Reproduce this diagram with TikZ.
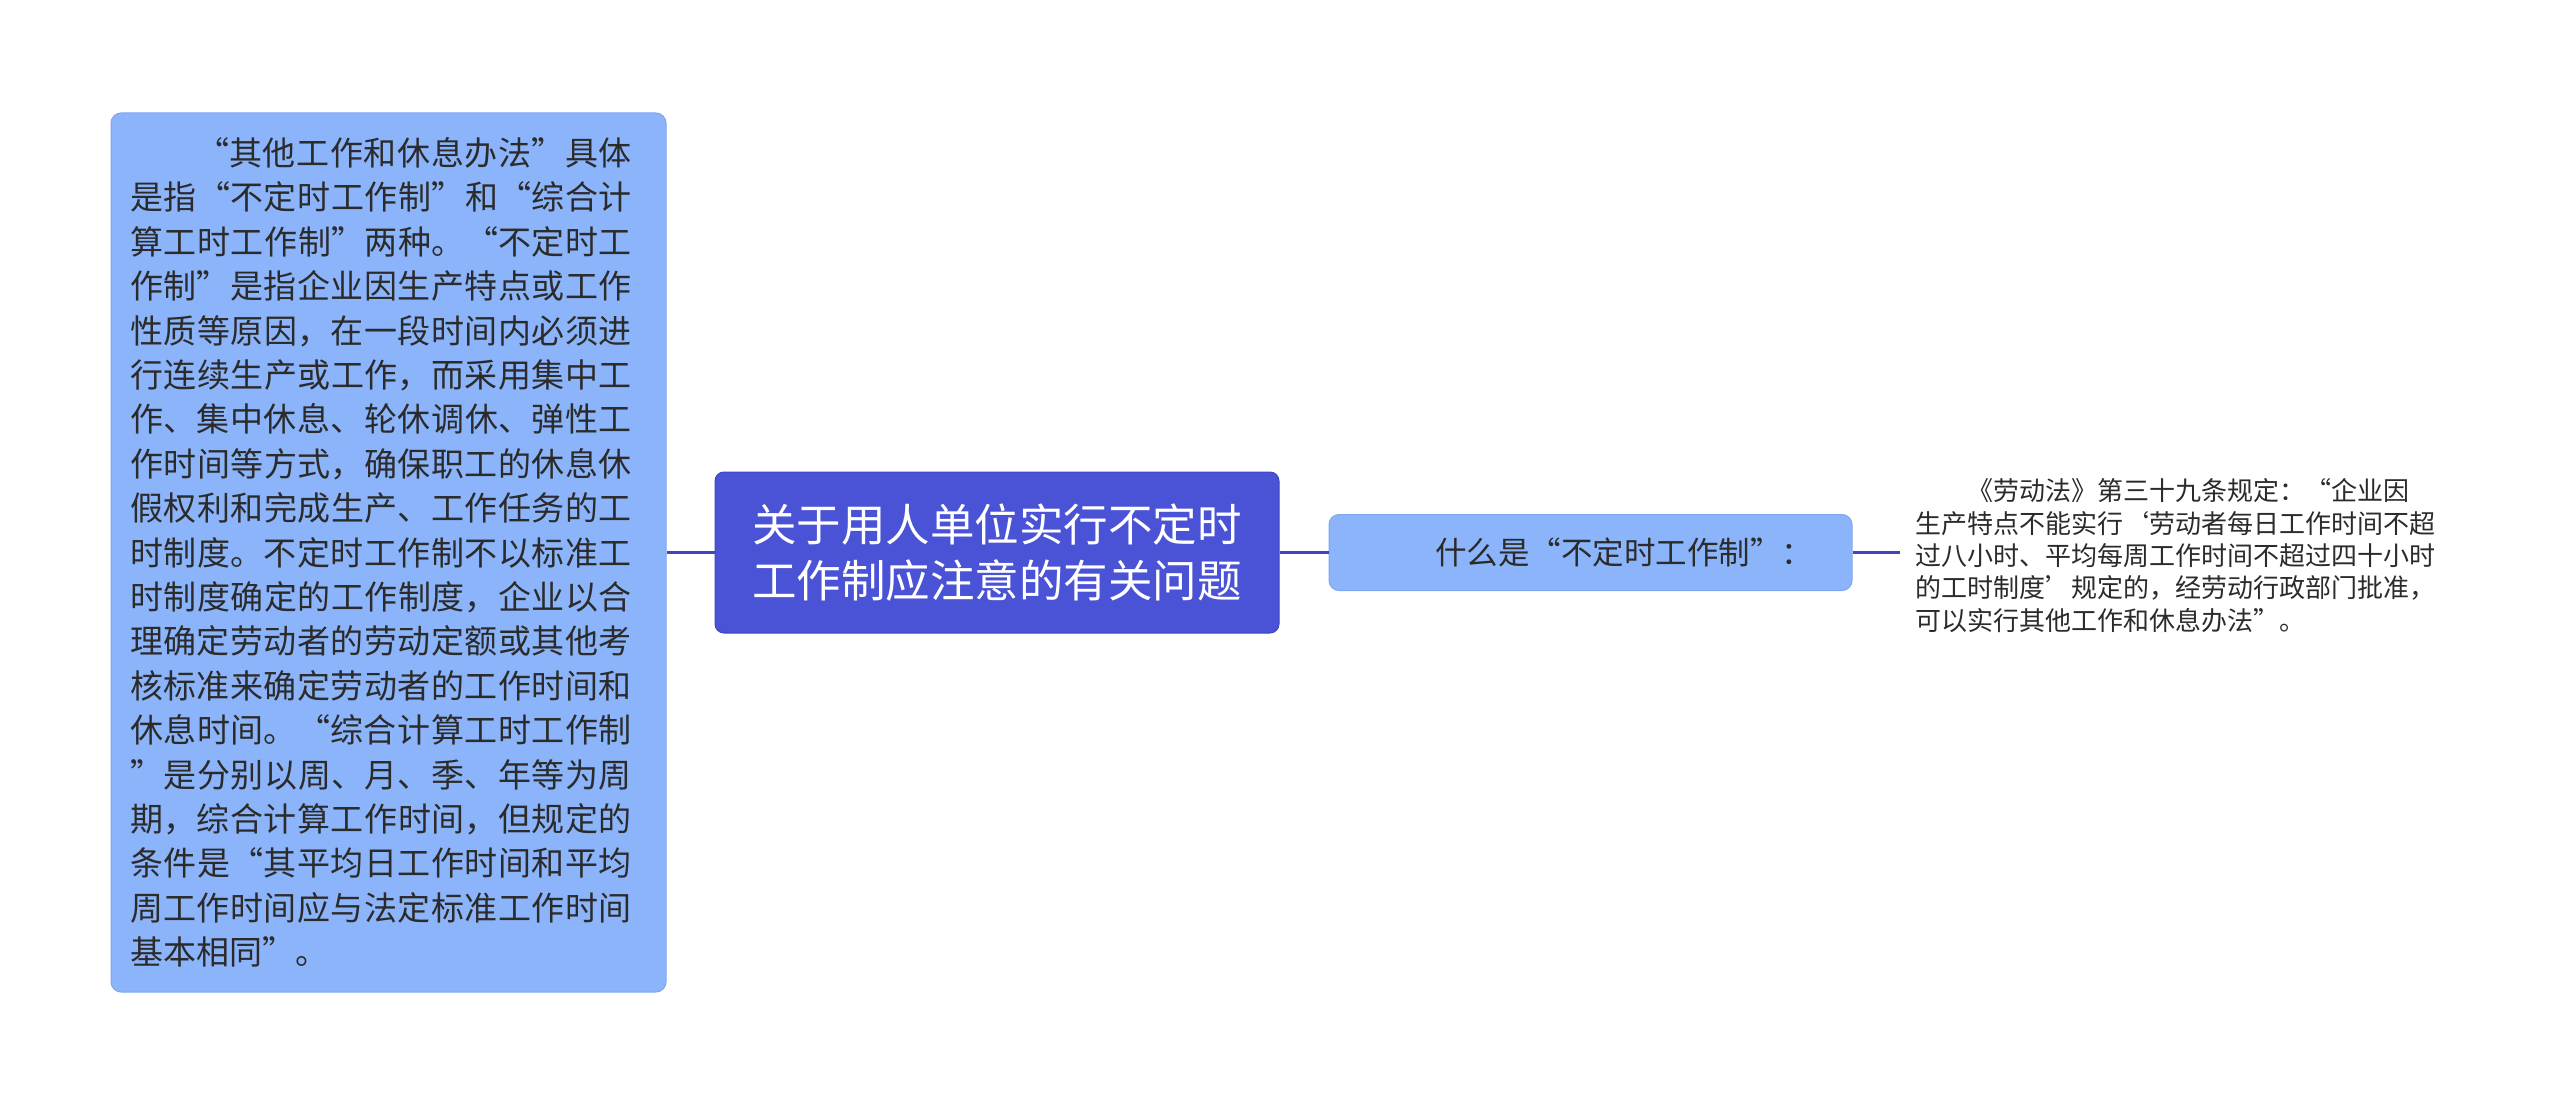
\documentclass[tikz,border=0pt]{standalone}
\usepackage{fontspec}
\setmainfont{Noto Sans CJK SC}[RawFeature={+fwid}]
\XeTeXlinebreaklocale "zh"
\XeTeXlinebreakskip=0pt plus 8pt
\definecolor{lightbox}{HTML}{8BB4FA}
\definecolor{lightedge}{HTML}{7EA6F0}
\definecolor{rootfill}{HTML}{4A52D6}
\definecolor{rootedge}{HTML}{3E46BE}
\definecolor{connc}{HTML}{3C46C4}
\definecolor{txt}{HTML}{2B2B2B}
\tikzset{
  leafbox/.style={fill=lightbox, draw=lightedge, line width=1pt, rounded corners=10pt, inner sep=0pt},
  rootbox/.style={fill=rootfill, draw=rootedge, line width=1pt, rounded corners=9pt, inner sep=0pt},
  conn/.style={draw=connc, line width=3.5pt},
  plain/.style={inner sep=0pt, outer sep=0pt}
}
\begin{document}
\begin{tikzpicture}[x=1pt,y=-1pt]
\useasboundingbox (0,0) rectangle (2560,1105);
% boxes
\node[leafbox, minimum width=555pt, minimum height=879pt] (lbox) at (388.5,552.5) {};
\node[rootbox, minimum width=564pt, minimum height=161pt] (cbox) at (997,552.5) {};
\node[leafbox, minimum width=523pt, minimum height=76pt] (mbox) at (1590.5,552.5) {};
% left text
\node[plain, anchor=north west, text width=502pt, align=justify, text=txt,
      font=\fontsize{33}{44.4}\selectfont] (ltext) at (130,134.4) {\strut\hspace*{2em}“其他工作和休息办法”具体\linebreak
是指“不定时工作制”和“综合计\linebreak
算工时工作制”两种。“不定时工\linebreak
作制”是指企业因生产特点或工作\linebreak
性质等原因，在一段时间内必须进\linebreak
行连续生产或工作，而采用集中工\linebreak
作、集中休息、轮休调休、弹性工\linebreak
作时间等方式，确保职工的休息休\linebreak
假权利和完成生产、工作任务的工\linebreak
时制度。不定时工作制不以标准工\linebreak
时制度确定的工作制度，企业以合\linebreak
理确定劳动者的劳动定额或其他考\linebreak
核标准来确定劳动者的工作时间和\linebreak
休息时间。“综合计算工时工作制\linebreak
”是分别以周、月、季、年等为周\linebreak
期，综合计算工作时间，但规定的\linebreak
条件是“其平均日工作时间和平均\linebreak
周工作时间应与法定标准工作时间\linebreak
基本相同”。\strut};
% center text
\node[plain, align=center, text=white, font=\fontsize{44.5}{56}\selectfont] (ctext) at (997,558.7)
  {\strut 关于用人单位实行不定时\\工作制应注意的有关问题\strut};
% middle text
\node[plain, anchor=base west, text=txt, font=\fontsize{31.5}{40}\selectfont] (mtext) at (1435,564) {什么是“不定时工作制”：};
% right text
\node[plain, anchor=north west, text width=540pt, align=left, text=txt,
      font=\fontsize{26}{32.3}\selectfont] (rtext) at (1915,478.3)
  {\strut\hspace*{2em}《劳动法》第三十九条规定：“企业因\\
生产特点不能实行‘劳动者每日工作时间不超\\
过八小时、平均每周工作时间不超过四十小时\\
的工时制度’规定的，经劳动行政部门批准，\\
可以实行其他工作和休息办法”。\strut};
% connectors
\draw[conn] (cbox.west) -- (cbox.west -| lbox.east);
\draw[conn] (cbox.east) -- (cbox.east -| mbox.west);
\draw[conn, shorten >=15pt] (mbox.east) -- (mbox.east -| rtext.west);
\end{tikzpicture}
\end{document}
